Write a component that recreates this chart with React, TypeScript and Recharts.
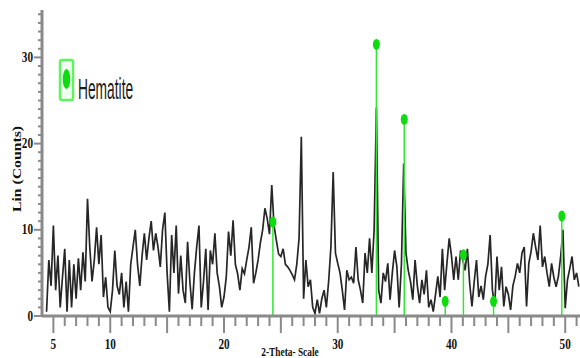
import React from 'react';
import { ComposedChart, Line, XAxis, YAxis, ReferenceLine, ReferenceDot } from 'recharts';

// 2-theta grid of the scan (degrees)
const thetaStart = 4.4;
const thetaStep = 0.2;

// Lin (Counts), one value per grid step
const counts = [
  0.5, 6.5, 3.5,
  10.5, 3, 7, 1, 4.5,
  7.8, 0.5, 6.5, 1, 6,
  2, 6.7, 3, 7.4, 4,
  13.6, 8, 4, 6.5, 10.3,
  6, 9.4, 2.2, 4.5, 1,
  0.5, 3, 7.6, 3.5, 2.5,
  5, 1, 4, 0.5, 6,
  8, 10, 6, 3.5, 7,
  9.6, 6.5, 9, 11, 7.6,
  9.6, 8, 5.7, 10, 12,
  5, 0.5, 9.4, 5, 10.5,
  2.6, 7, 3, 1.5, 8.6,
  4, 0.8, 5, 8, 10.5,
  1, 4, 7.8, 0.7, 7.6,
  6, 9.6, 5, 3.4, 1,
  2.2, 4.5, 9.8, 7, 11.1,
  6, 4.9, 3, 5.5, 4.9,
  6.5, 8, 10.3, 3.8, 5,
  6.5, 8.5, 10, 12.5, 11.3,
  9.5, 15.2, 10.5, 8.8, 7.2,
  6.9, 7.8, 6, 5.7, 5.3,
  4.8, 4.2, 6, 9, 20.8,
  2, 6.5, 3.4, 4.2, 1,
  0.3, 1.9, 0.3, 2, 3,
  1, 4, 8, 16.7, 7.3,
  6.1, 5, 3, 0.7, 5.3,
  4.2, 4.5, 3.8, 8, 4.2,
  3, 1.5, 7.3, 5, 9,
  5, 10, 24.2, 3, 1.5,
  5, 4, 6.1, 1.9, 5,
  7.6, 5.7, 1, 6, 17.7,
  7.3, 5.3, 4, 1.9, 6.5,
  3.5, 1.5, 4.2, 2.5, 5.3,
  1, 1.9, 0.5, 2.5, 4.6,
  2.2, 7.8, 3, 6.1, 9,
  7, 4.2, 6.9, 4.2, 7.6,
  6.5, 5.3, 7.8, 3.8, 1.1,
  4, 6.5, 2.2, 3.5, 1.9,
  4.6, 6, 9.4, 3, 1.1,
  6.9, 3, 5.7, 1.1, 3.4,
  2.5, 0.7, 3.5, 4.6, 6.1,
  5, 7.3, 8, 1.1, 6.1,
  7.5, 9.6, 8, 6.5, 10.5,
  5.7, 6.9, 5, 3.4, 6.1,
  4.5, 3.4, 4.6, 6.9, 10,
  0.9, 4.2, 5.5, 6.9, 4.2,
  5, 3.4,
];

// hematite reference markers
const hematiteTheta = [24.3, 33.4, 35.85, 39.45, 41.05, 43.7, 49.7];
const hematiteCounts = [10.9, 31.5, 22.8, 1.7, 7.1, 1.7, 11.6];

const xTicks = Array.from({ length: 47 }, (_, i) => i + 5);
const xLabels = [5, 10, 20, 30, 40, 50];
const yTicks = Array.from({ length: 36 }, (_, i) => i);
const yLabels = [0, 10, 20, 30];

const data = counts.map((c, i) => ({
  theta: Math.round((thetaStart + i * thetaStep) * 10) / 10,
  counts: c,
}));

const axisGray = '#8a8a8a';
const green = '#33e633';
const serif = '"Liberation Serif", "Times New Roman", serif';

const XTick = (props: any) => {
  const { x, y, payload } = props;
  const v = payload.value;
  const major = v % 5 === 0;
  return (
    <g>
      <line x1={x} x2={x} y1={y} y2={y + (major ? 17 : 10)} stroke={axisGray} strokeWidth={2} />
      {xLabels.includes(v) && (
        <text
          transform={`translate(${x},${y + 33}) scale(0.8,1)`}
          textAnchor="middle"
          fontFamily={serif}
          fontWeight="bold"
          fontSize={14}
          fill="#111"
        >
          {v}
        </text>
      )}
    </g>
  );
};

const YTick = (props: any) => {
  const { x, y, payload } = props;
  const v = payload.value;
  const major = v % 10 === 0;
  return (
    <g>
      <line x1={x} x2={x - (major ? 8 : 4)} y1={y} y2={y} stroke={axisGray} strokeWidth={2} />
      {yLabels.includes(v) && (
        <text
          transform={`translate(${x - 9},${y + 4.5}) scale(0.8,1)`}
          textAnchor="end"
          fontFamily={serif}
          fontWeight="bold"
          fontSize={14}
          fill="#111"
        >
          {v}
        </text>
      )}
    </g>
  );
};

const MarkerDot = (props: any) => (
  <ellipse cx={props.cx} cy={props.cy} rx={3.5} ry={5.5} fill="#0fdc0f" />
);

export default function App() {
  return (
    <div style={{ position: 'absolute', left: 0, top: 0, width: 580, height: 358, background: '#fff' }}>
      <ComposedChart width={580} height={358} data={data} margin={{ top: 10, right: 0, bottom: 0, left: 0 }}>
        <XAxis
          dataKey="theta"
          type="number"
          domain={[4, 51.3]}
          allowDataOverflow
          ticks={xTicks}
          interval={0}
          height={42}
          tickSize={0}
          tickMargin={0}
          tickLine={false}
          axisLine={{ stroke: axisGray, strokeWidth: 3 }}
          tick={<XTick />}
        />
        <YAxis
          type="number"
          domain={[0, 35.5]}
          allowDataOverflow
          ticks={yTicks}
          interval={0}
          width={42}
          tickSize={0}
          tickMargin={0}
          tickLine={false}
          axisLine={{ stroke: axisGray, strokeWidth: 3 }}
          tick={<YTick />}
        />
        <Line
          type="linear"
          dataKey="counts"
          stroke="#262626"
          strokeWidth={1.7}
          dot={false}
          activeDot={false}
          isAnimationActive={false}
        />
        {hematiteTheta.map((t, i) => (
          <ReferenceLine
            key={'l' + i}
            segment={[{ x: t, y: 0 }, { x: t, y: hematiteCounts[i] }]}
            stroke={green}
            strokeWidth={1.5}
          />
        ))}
        {hematiteTheta.map((t, i) => (
          <ReferenceDot key={'d' + i} x={t} y={hematiteCounts[i]} r={4} shape={<MarkerDot />} />
        ))}
      </ComposedChart>
      <svg width={580} height={358} style={{ position: 'absolute', left: 0, top: 0, pointerEvents: 'none' }}>
        <rect x={60} y={60} width={13} height={40} rx={2} fill="#f2fff2" stroke="#5cf55c" strokeWidth={2.5} />
        <ellipse cx={66.5} cy={79} rx={3.8} ry={10} fill="#0fdc0f" />
        <text
          transform="translate(78,99) scale(0.46,1)"
          fontFamily='"Liberation Sans", Arial, sans-serif'
          fontSize={30}
          fill="#1a1a1a"
        >
          Hematite
        </text>
        <text
          transform="translate(21,169) rotate(-90) scale(1.05,0.85)"
          textAnchor="middle"
          fontFamily={serif}
          fontWeight="bold"
          fontSize={15}
          fill="#111"
        >
          Lin (Counts)
        </text>
        <text
          transform="translate(290,356) scale(0.72,1)"
          textAnchor="middle"
          fontFamily={serif}
          fontWeight="bold"
          fontSize={13}
          fill="#111"
        >
          2-Theta- Scale
        </text>
      </svg>
    </div>
  );
}
